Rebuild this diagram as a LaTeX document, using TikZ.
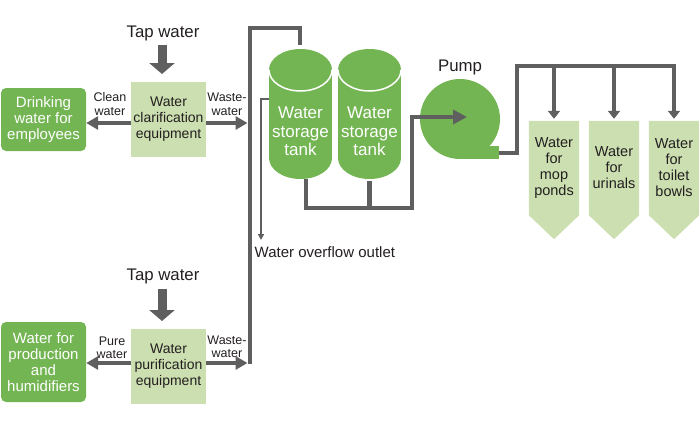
\documentclass[tikz,border=0pt]{standalone}
\usepackage{fontspec}
\setmainfont{Liberation Sans}
\usetikzlibrary{arrows.meta,backgrounds,calc}
\definecolor{dgreen}{HTML}{74B553}
\definecolor{lgreen}{HTML}{CCDFB0}
\definecolor{pipec}{HTML}{5F5F5F}
\definecolor{ink}{HTML}{231F20}
\begin{document}
\begin{tikzpicture}[x=1pt,y=-1pt,
  lbl/.style={font=\fontsize{16.8}{18}\selectfont, text=ink, inner sep=0pt},
  eqbox/.style={fill=lgreen, minimum width=75pt, minimum height=75pt, inner sep=0pt, align=center, font=\fontsize{14}{16}\selectfont, text=ink},
  usebox/.style={fill=dgreen, rounded corners=5pt, minimum width=85pt, inner sep=0pt, align=center, text=white, font=\fontsize{15}{16}\selectfont},
  smalllbl/.style={align=center, font=\fontsize{12.5}{13.5}\selectfont, text=ink, inner sep=0pt},
  tanktext/.style={align=center, text=white, font=\fontsize{17}{18.5}\selectfont, inner sep=0pt},
  tbox/.style={minimum width=50pt, minimum height=94pt, inner sep=0pt, align=center, text=ink, font=\fontsize{14.5}{16}\selectfont},
  pipeline/.style={draw=pipec, line width=4.5pt},
  pipearrow/.style={pipeline, -{Triangle[width=13pt,length=12pt]}},
  branch/.style={pipeline, -{Triangle[width=12pt,length=8pt]}},
  taparrow/.style={draw=pipec, line width=9pt, -{Triangle[width=25pt,length=11pt]}},
  thinarrow/.style={draw=pipec, line width=1.5pt, -{Triangle[width=6pt,length=6pt]}}
]
\useasboundingbox (0,0) rectangle (700,420);

% ---------- upper equipment ----------
\node[lbl] (tap1) at (163,33) {Tap water};
\node[eqbox] (clar) at (168.5,119.5) {Water\\clarification\\equipment};
\node[usebox, minimum height=63pt] (drink) at (43.5,119.5) {Drinking\\water for\\employees};
\node[smalllbl] (cleanl) at (110,104) {Clean\\water};
\node[smalllbl] (waste1l) at (227,104.5) {Waste-\\water};

% ---------- lower equipment ----------
\node[lbl] (tap2) at (163,276) {Tap water};
\node[eqbox] (puri) at (168.5,366.5) {Water\\purification\\equipment};
\node[usebox, minimum height=80pt] (prod) at (43.5,362) {Water for\\production\\and\\humidifiers};
\node[smalllbl] (purel) at (112,348) {Pure\\water};
\node[smalllbl] (waste2l) at (227,347) {Waste-\\water};

% ---------- main pipe ----------
\coordinate (ptop) at (250,28);
\coordinate (pbot) at (250,364);
\coordinate (t1in) at (300,45);
\draw[pipeline] (pbot) -- (ptop) -| (t1in);

% tap arrows
\draw[taparrow] ([xshift=-1pt,yshift=-4pt]tap1.south) -- ([xshift=-1pt]tap1.south |- 0,74);
\draw[taparrow] ([xshift=-1pt,yshift=-5pt]tap2.south) -- ([xshift=-1pt]tap2.south |- 0,321);

% side arrows
\draw[pipearrow] (clar.west |- 0,123) -- (drink.east |- 0,123);
\draw[pipearrow] (clar.east |- 0,123) -- (247.5,123);
\draw[pipearrow] (puri.west |- 0,363) -- (prod.east |- 0,363);
\draw[pipearrow] (puri.east |- 0,363) -- (247.5,363);

% ---------- tanks ----------
\foreach \cx/\nm in {300.5/tank1, 369.5/tank2} {
  \fill[dgreen] (\cx,70) ellipse[x radius=31.5, y radius=21];
  \fill[dgreen] (\cx-31.5,70) rectangle (\cx+31.5,158);
  \fill[dgreen] (\cx,158) ellipse[x radius=31.5, y radius=21];
  \draw[white, line width=1.5pt] (\cx-31.5,70) arc[start angle=180, end angle=0, x radius=31.5, y radius=21];
  \node[tanktext] (\nm) at (\cx,131.5) {Water\\storage\\tank};
}
\coordinate (t1out) at (306,179);
\coordinate (t2out) at (369.5,181);
\coordinate (t1side) at (269,99);
\coordinate (ovf) at (261,240);
\draw[thinarrow] (t1side) -| (ovf);
\node[font=\fontsize{15}{16}\selectfont, text=ink, anchor=west, inner sep=0pt] (ovfl) at (254.5,252) {Water overflow outlet};

% ---------- pump ----------
\node[circle, fill=dgreen, minimum size=80pt, inner sep=0pt] (pump) at (460,119) {};
\fill[dgreen] (460,146) rectangle (499,159);
\node[lbl] (pumpl) at (460,67) {Pump};
\coordinate (pin) at (467,117);
\draw[pipeline] (t2out) -- (369.5,208);
\draw[pipeline, -{Triangle[width=14pt,length=14pt]}] (t1out) |- (412,208) |- (pin);
\coordinate (pout) at (499,153);

% ---------- targets ----------
\node[tbox] (b1) at (554,168) {Water\\for\\mop\\ponds};
\node[tbox] (b2) at (614,168) {Water\\for\\urinals};
\node[tbox] (b3) at (674,168) {Water\\for\\toilet\\bowls};
\begin{scope}[on background layer]
\foreach \b in {b1,b2,b3} {
  \fill[lgreen] (\b.north west) -- (\b.north east) -- (\b.south east) -- ($(\b.south)+(0,24)$) -- (\b.south west) -- cycle;
}
\end{scope}
\draw[branch, shorten >=2pt] (pout) -| (517,66) -| (b3.north);
\draw[branch, shorten >=2pt] (b1.north |- 0,66) -- (b1.north);
\draw[branch, shorten >=2pt] (b2.north |- 0,66) -- (b2.north);
\end{tikzpicture}
\end{document}
